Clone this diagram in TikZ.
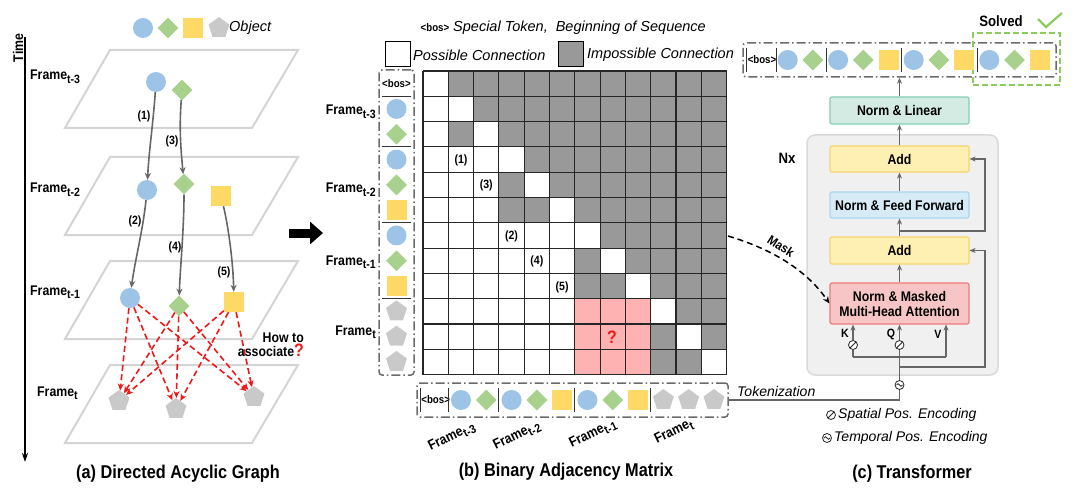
\documentclass[tikz,border=0pt]{standalone}
\usepackage{fontspec}
\setmainfont{Liberation Sans}
\newfontfamily\cond{Liberation Sans}[FakeStretch=0.88]
\usetikzlibrary{shapes.geometric,arrows.meta}
\newcommand\fsz[1]{\fontsize{#1}{#1}\selectfont}
\newcommand\frm[1]{Frame\raisebox{-3.5pt}{\fsz{12}#1}}
\definecolor{cblue}{HTML}{9DC3E6}
\definecolor{dgreen}{HTML}{A9D18E}
\definecolor{syel}{HTML}{FFD966}
\definecolor{pgray}{HTML}{C9C9C9}
\definecolor{framec}{HTML}{D4D4D4}
\definecolor{argray}{HTML}{666666}
\definecolor{cellgray}{HTML}{999999}
\definecolor{cellpink}{HTML}{FFB2B2}
\definecolor{ddgray}{HTML}{6B6B6B}
\definecolor{solvedg}{HTML}{8CCB5E}
\definecolor{panelf}{HTML}{F0F0F0}
\definecolor{paneld}{HTML}{D9D9D9}
\definecolor{nlf}{HTML}{D3EBE3}\definecolor{nld}{HTML}{84CDB6}
\definecolor{addf}{HTML}{FEEFB3}\definecolor{addd}{HTML}{F8D46C}
\definecolor{fff}{HTML}{D6EBF5}\definecolor{ffd}{HTML}{A8D5EF}
\definecolor{attf}{HTML}{F7C5C5}\definecolor{attd}{HTML}{EE7B7B}
\definecolor{redar}{HTML}{F01818}
\begin{document}
\begin{tikzpicture}[x=1pt,y=-1pt,
 tc/.style={circle,fill=cblue,minimum size=20pt,inner sep=0pt},
 td/.style={diamond,fill=dgreen,minimum size=21pt,inner sep=0pt},
 ts/.style={rectangle,fill=syel,minimum size=20pt,inner sep=0pt},
 tp/.style={regular polygon,regular polygon sides=5,fill=pgray,minimum size=22pt,inner sep=0pt},
 tb/.style={font=\cond\bfseries\fsz{11},inner sep=0pt},
 lbl/.style={font=\cond\bfseries\fsz{14},inner sep=0pt},
 num/.style={font=\cond\bfseries\fsz{12},inner sep=0pt},
 ttl/.style={font=\cond\bfseries\fsz{18.5},inner sep=0pt},
 ital/.style={font=\itshape\fsz{14.5},inner sep=0pt},
 garrow/.style={draw=argray,line width=1.6pt,-{Stealth[length=7pt,width=6pt]}},
 rarrow/.style={draw=redar,line width=1.6pt,dash pattern=on 6pt off 3.5pt,-{Stealth[length=7pt,width=6pt]}},
 gline/.style={draw=argray,line width=1.5pt},
 tarrow/.style={gline,-{Stealth[length=6pt,width=5pt]}},
 dd/.style={draw=ddgray,line width=1.5pt,dash pattern=on 9pt off 3pt on 1.5pt off 3pt,rounded corners=3pt,inner sep=0pt},
 sepl/.style={draw=black!80,line width=1pt},
 gridl/.style={draw=black!85,line width=1.1pt},
 maskar/.style={draw=black,line width=1.5pt,dash pattern=on 6pt off 4pt,-{Stealth[length=7pt,width=6pt]}},
 bx/.style={rounded corners=2pt,line width=1.2pt,minimum width=139pt,font=\cond\bfseries\fsz{14},align=center,inner sep=0pt},
 spat/.style={circle,draw=black!85,fill=white,line width=0.8pt,minimum size=9pt,inner sep=0pt,path picture={\draw[line width=0.8pt] ([shift={(-3pt,-3pt)}]path picture bounding box.center) -- ([shift={(3pt,3pt)}]path picture bounding box.center);}},
 temp/.style={circle,draw=black!85,fill=white,line width=0.8pt,minimum size=9pt,inner sep=0pt,path picture={\draw[line width=0.8pt] ([xshift=-3pt]path picture bounding box.center) sin ++(1.5pt,1.3pt) cos ++(1.5pt,-1.3pt) sin ++(1.5pt,-1.3pt) cos ++(1.5pt,1.3pt);}},
]
\useasboundingbox (0,0) rectangle (1075,489);
\def\mx{423}\def\my{71}\def\cs{25.3}
% ================= (a) =================
\node[tc] (lg1) at (143,28) {};
\node[td] (lg2) at (168,28) {};
\node[ts] (lg3) at (193,28) {};
\node[tp] (lg4) at (219,28) {};
\node[ital,anchor=west] (lgt) at (229,28) {Object};
\coordinate (t0) at (25,37); \coordinate (t1) at (25,462);
\draw[line width=1.5pt,-{Stealth[length=9pt,width=6pt]}] (t0) -- (t1);
\node[lbl,rotate=90] (time) at (18,48) {Time};
\foreach \t in {50,157,261,365}
  \draw[draw=framec,line width=2pt] (110,\t) -- (298,\t) -- (252,{\t+78}) -- (65,{\t+78}) -- cycle;
\node[lbl,anchor=base west] (fa3) at (30,80) {\frm{t-3}};
\node[lbl,anchor=base west] (fa2) at (30,193) {\frm{t-2}};
\node[lbl,anchor=base west] (fa1) at (30,295) {\frm{t-1}};
\node[lbl,anchor=base west] (fa0) at (37,396) {\frm{t}};
\node[tc] (a1) at (156,82) {};
\node[td] (a2) at (182,90) {};
\node[tc] (b1) at (147,190) {};
\node[td] (b2) at (184,184) {};
\node[ts] (b3) at (221,196) {};
\node[tc] (c1) at (130,298) {};
\node[td] (c2) at (179,306) {};
\node[ts] (c3) at (234,302) {};
\node[tp] (d1) at (119,401) {};
\node[tp] (d2) at (176,409) {};
\node[tp] (d3) at (254,397) {};
\draw[garrow] (a1) .. controls (153,125) and (149,150) .. (b1);
\draw[garrow] (a2) .. controls (179,130) and (181,150) .. (b2);
\draw[garrow] (b1) .. controls (143,230) and (135,260) .. (c1);
\draw[garrow] (b2) .. controls (184,230) and (180,270) .. (c2);
\draw[garrow] (b3) .. controls (228,225) and (233,260) .. (c3);
\node[num] (n1) at (144,116) {(1)};
\node[num] (n3) at (172,141) {(3)};
\node[num] (n2) at (135,221) {(2)};
\node[num] (n4) at (175,247) {(4)};
\node[num] (n5) at (224,272) {(5)};
\foreach \s in {c1,c2,c3}
  \foreach \e in {d1,d2,d3}
    \draw[rarrow] (\s) -- (\e);
\node[lbl,align=right,anchor=east] (how) at (304,345) {How to\\associate{\color{redar}\fsz{18}?}};
\node[ttl] (tta) at (178,474) {(a) Directed Acyclic Graph};
\coordinate (ba0) at (289,233); \coordinate (ba1) at (323,233);
\draw[line width=9pt,-{Triangle[length=13pt,width=22pt]}] (ba0) -- (ba1);
% ================= (b) =================
\node[tb] (lbos) at (435,28) {<bos>};
\node[ital,anchor=west] (lbost) at (453,28) {Special Token,\ \ Beginning of Sequence};
\node[draw=black,line width=1pt,fill=white,minimum size=25pt,inner sep=0pt] (lw) at (398,54) {};
\node[ital,anchor=west] (lwt) at (413,55) {Possible Connection};
\node[draw=black,line width=1pt,fill=cellgray,minimum size=25pt,inner sep=0pt] (lgr) at (571,54) {};
\node[ital,anchor=west] (lgrt) at (587,55) {Impossible Connection};
% matrix
\fill[white] (\mx,\my) rectangle ({\mx+12*\cs},{\my+12*\cs});
\foreach \r/\a/\b in {0/1/12,1/2/12,2/1/2,2/3/12,3/4/12,4/3/4,4/5/12,5/3/5,5/6/12,6/7/12,7/6/7,7/8/12,8/6/8,8/9/12,9/10/12,10/9/10,10/11/12,11/9/11}
  \fill[cellgray] ({\mx+\a*\cs},{\my+\r*\cs}) rectangle ({\mx+\b*\cs},{\my+(\r+1)*\cs});
\fill[cellpink] ({\mx+6*\cs},{\my+9*\cs}) rectangle ({\mx+9*\cs},{\my+12*\cs});
\foreach \i in {0,...,12}{
  \draw[gridl] ({\mx+\i*\cs},\my) -- ({\mx+\i*\cs},{\my+12*\cs});
  \draw[gridl] (\mx,{\my+\i*\cs}) -- ({\mx+12*\cs},{\my+\i*\cs});
}
\foreach \r/\c/\n in {3/1/1,4/2/3,6/3/2,7/4/4,8/5/5}
  \node[num] at ({\mx+(\c+0.5)*\cs},{\my+(\r+0.5)*\cs+1}) {(\n)};
\node[font=\cond\bfseries\fsz{18},text=redar,inner sep=0pt] (qm) at (612,337) {?};
% left column
\node[dd,minimum width=35pt,minimum height=305pt] (lcol) at (396.5,222.5) {};
\node[tb] (L0) at (396.5,{\my+0.5*\cs}) {<bos>};
\foreach \k/\ty in {1/tc,2/td,3/tc,4/td,5/ts,6/tc,7/td,8/ts,9/tp,10/tp,11/tp}
  \node[\ty] (L\k) at (396.5,{\my+(\k+0.5)*\cs}) {};
\foreach \k in {1,3,6,9}
  \draw[sepl] (382,{\my+\k*\cs}) -- (411,{\my+\k*\cs});
\node[lbl,anchor=base east] (fb3) at (376,115) {\frm{t-3}};
\node[lbl,anchor=base east] (fb2) at (376,193) {\frm{t-2}};
\node[lbl,anchor=base east] (fb1) at (376,265) {\frm{t-1}};
\node[lbl,anchor=base east] (fb0) at (376,335) {\frm{t}};
% bottom row
\node[dd,minimum width=311pt,minimum height=34pt] (brow) at (572.5,400) {};
\node[tb] (B0) at ({\mx+0.5*\cs},400) {<bos>};
\foreach \k/\ty in {1/tc,2/td,3/tc,4/td,5/ts,6/tc,7/td,8/ts,9/tp,10/tp,11/tp}
  \node[\ty] (B\k) at ({\mx+(\k+0.5)*\cs},400) {};
\foreach \k in {1,3,6,9}
  \draw[sepl] ({\mx+\k*\cs},388) -- ({\mx+\k*\cs},412);
\draw[sepl] (420,388) -- (420,412);
\node[lbl,rotate=26] (bl3) at (452,437) {\frm{t-3}};
\node[lbl,rotate=26] (bl2) at (517,436) {\frm{t-2}};
\node[lbl,rotate=26] (bl1) at (593,434) {\frm{t-1}};
\node[lbl,rotate=26] (bl0) at (674,432) {\frm{t}};
\node[ttl] (ttb) at (566,472) {(b) Binary Adjacency Matrix};
% ================= (c) =================
\node[draw=paneld,fill=panelf,line width=1.5pt,rounded corners=8pt,minimum width=191pt,minimum height=240pt,inner sep=0pt] (panel) at (902.5,255) {};
\node[lbl,font=\cond\bfseries\fsz{15}] (nx) at (787,158) {Nx};
\node[bx,draw=nld,fill=nlf,minimum height=27pt] (nl) at (899.5,110.5) {Norm \& Linear};
\node[bx,draw=addd,fill=addf,minimum height=26pt] (add2) at (899.5,159) {Add};
\node[bx,draw=ffd,fill=fff,minimum height=26pt] (ff) at (899.5,205) {Norm \& Feed Forward};
\node[bx,draw=addd,fill=addf,minimum height=27pt] (add1) at (899.5,250.5) {Add};
\node[bx,draw=attd,fill=attf,minimum height=41pt] (att) at (899.5,303.5) {Norm \& Masked\\[1pt]Multi-Head Attention};
% top row
\node[dd,minimum width=313pt,minimum height=34pt] (trow) at (899.5,60) {};
\node[draw=solvedg,line width=1.5pt,dash pattern=on 6pt off 3pt,minimum width=87pt,minimum height=52pt,inner sep=0pt] (solv) at (1016.5,59) {};
\node[tb] (T0) at (762,60) {<bos>};
\foreach \k/\ty in {1/tc,2/td,3/tc,4/td,5/ts,6/tc,7/td,8/ts,9/tc,10/td,11/ts}
  \node[\ty] (T\k) at ({762.5+\k*25.2},60) {};
\foreach \xx in {746,776,826,901.5,977}
  \draw[sepl] (\xx,48) -- (\xx,72);
\node[lbl,font=\cond\bfseries\fsz{15}] (solvedt) at (1001,21) {Solved};
\coordinate (ck0) at (1038,19); \coordinate (ck1) at (1046,27); \coordinate (ck2) at (1062,13);
\draw[draw=solvedg,line width=2.2pt] (ck0) -- (ck1) -- (ck2);
% arrows
\draw[tarrow] (att.north) -- (add1.south);
\draw[tarrow] (add1.north) -- (ff.south);
\draw[tarrow] (ff.north) -- (add2.south);
\draw[tarrow] (add2.north) -- (nl.south);
\draw[tarrow] (nl.north) -- (trow.south);
\coordinate (r1) at (899.5,367);
\coordinate (r2) at (899.5,231);
\draw[tarrow] (r1) -- (985,367) |- (add1.east);
\draw[tarrow] (r2) -- (985,231) |- (add2.east);
\node[temp] (tq) at (899.5,385) {};
\node[spat] (sq) at (899.5,345) {};
\node[spat] (sk) at (853,345) {};
\coordinate (kb) at (853,357);
\coordinate (vb) at (946,357);
\draw[gline] (brow.east) -| (tq.south);
\draw[gline] (tq) -- (sq);
\draw[tarrow] (sq) -- (att.south);
\draw[gline] (kb) -- (vb);
\draw[gline] (kb) -- (sk);
\draw[tarrow] (sk) -- (sk |- att.south);
\draw[tarrow] (vb) -- (vb |- att.south);
\node[tb,font=\cond\bfseries\fsz{12}] (kl) at (845,333) {K};
\node[tb,font=\cond\bfseries\fsz{12}] (ql) at (891,334) {Q};
\node[tb,font=\cond\bfseries\fsz{12}] (vl) at (938,334) {V};
\node[ital,font=\itshape\fsz{14},anchor=west] (tok) at (737,391) {Tokenization};
\node[spat] (lsp) at (831,415) {};
\node[ital,font=\itshape\fsz{14},anchor=west] (lspt) at (838,415) {Spatial Pos. Encoding};
\node[temp] (ltp) at (827,438) {};
\node[ital,font=\itshape\fsz{14},anchor=west] (ltpt) at (834,438) {Temporal Pos. Encoding};
\node[ttl] (ttc) at (912,474) {(c) Transformer};
% mask
\coordinate (mst) at (728,236);
\draw[maskar] (mst) .. controls (775,250) and (808,272) .. (att.west);
\node[lbl,font=\cond\bfseries\fsz{13},rotate=-33] (maskt) at (781,246) {Mask};
\end{tikzpicture}
\end{document}
